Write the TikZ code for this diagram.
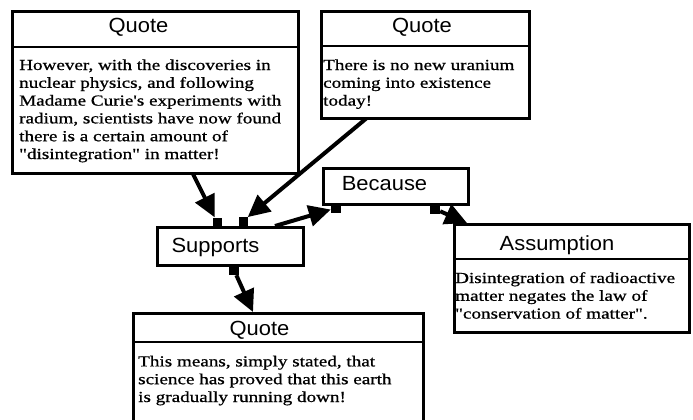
\documentclass[tikz,border=0pt]{standalone}
\usepackage{fontspec}
\newfontfamily\headfont[FakeStretch=1.07]{Liberation Sans}
\newfontfamily\bodyfont[FakeStretch=1.25,FakeBold=0.8]{Liberation Serif}
\usetikzlibrary{arrows.meta}
\begin{document}
\begin{tikzpicture}[x=1pt,y=-1pt,
  frame/.style={draw=black, line width=3pt, fill=white, inner sep=0pt, anchor=north west},
  relbox/.style={frame, line width=2.6pt},
  divider/.style={line width=2pt},
  title/.style={font=\headfont\fontsize{20.5}{24}\selectfont, anchor=base, inner sep=0pt},
  % multi-line texts are placed by the baseline of their last line
  body/.style={font=\bodyfont\fontsize{15.3}{17.8}\selectfont, align=left, anchor=base west, inner sep=0pt},
  port/.style={fill=black, minimum size=9pt, inner sep=0pt},
  link/.style={line width=4pt, -{Triangle[length=22pt,width=21pt]}},
]
\useasboundingbox (0,0) rectangle (693,420);
\clip (0,0) rectangle (693,420);
\fill[white] (0,0) rectangle (693,420);

% ports on the relation boxes
\node[port] (pS1) at (217,222) {};
\node[port] (pS2) at (243,221) {};
\node[port, minimum size=10pt] (pS3) at (234,270) {};
\node[port, minimum size=10pt] (pB1) at (336,208) {};
\node[port, minimum size=10pt] (pB2) at (435,209) {};

% attachment points on the boxes
\coordinate (q1foot) at (192,172);
\coordinate (q2foot) at (368,117);
\coordinate (sTop) at (275,226);
\coordinate (asTop) at (467,223);
\coordinate (q3Top) at (253,312);

% connectors
\draw[link] (q1foot) -- (pS1);
\draw[link] (q2foot) -- (pS2);
\draw[link] (sTop) -- (pB1);
\draw[link] (pB2) -- (asTop);
\draw[link] (pS3) -- (q3Top);

% quote box, top left
\node[frame, minimum width=286pt, minimum height=162pt] (q1) at (11,10) {};
\draw[divider] (11,47) -- (297,47);
\node[title] (q1t) at (138.5,33) {Quote};
\node[body] (q1b) at (19,159) {However, with the discoveries in\\nuclear physics, and following\\Madame Curie's experiments with\\radium, scientists have now found\\there is a certain amount of\\"disintegration" in matter!};

% quote box, top right
\node[frame, minimum width=208pt, minimum height=107pt] (q2) at (320,10) {};
\draw[divider] (320,46) -- (528,46);
\node[title] (q2t) at (422,33) {Quote};
\node[body] (q2b) at (323,105.6) {There is no new uranium\\coming into existence\\today!};

% relation boxes
\node[relbox, minimum width=145pt, minimum height=36pt] (bec) at (322,167) {};
\node[title] (bect) at (384.5,190) {Because};
\node[relbox, minimum width=146pt, minimum height=38pt] (sup) at (156,226) {};
\node[title] (supt) at (215.5,252) {Supports};

% assumption box
\node[frame, minimum width=235pt, minimum height=108pt] (as) at (453,223) {};
\draw[divider] (453,259) -- (688,259);
\node[title] (ast) at (557,250) {Assumption};
\node[body] (asb) at (455,318.6) {Disintegration of radioactive\\matter negates the law of\\"conservation of matter".};

% quote box, bottom
\node[frame, minimum width=290pt, minimum height=140pt] (q3) at (132,312) {};
\draw[divider] (132,342) -- (422,342);
\node[title] (q3t) at (259.5,335) {Quote};
\node[body] (q3b) at (138,402) {This means, simply stated, that\\science has proved that this earth\\is gradually running down!};

% ports drawn above the box borders
\node[port] at (pS1) {};
\node[port] at (pS2) {};
\end{tikzpicture}
\end{document}
